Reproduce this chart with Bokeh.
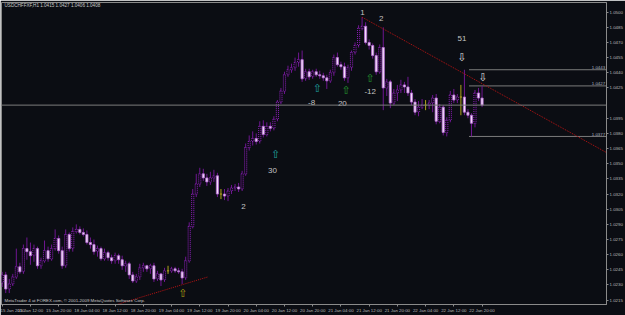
from bokeh.plotting import figure
from bokeh.models import Range1d, FixedTicker, Label, Span, NumeralTickFormatter
from bokeh.core.properties import value
from bokeh.embed import file_html
from bokeh.resources import INLINE

# ---------------- data ----------------
chart_title = "USDCHFFXF,H1 1.0415 1.0427 1.0406 1.0408"
copyright_text = "MetaTrader 4 at FOREX.com, \u00a9 2001-2009 MetaQuotes Software Corp."

opens = [1.0232, 1.0240, 1.0226, 1.0231, 1.0238, 1.0248, 1.0243, 1.0266, 1.0263, 1.0259,
         1.0266, 1.0249, 1.0254, 1.0264, 1.0256, 1.0266, 1.0276, 1.0264, 1.0249, 1.0280,
         1.0266, 1.0283, 1.0285, 1.0282, 1.0280, 1.0272, 1.0270, 1.0263, 1.0266, 1.0256,
         1.0262, 1.0257, 1.0254, 1.0259, 1.0255, 1.0249, 1.0251, 1.0240, 1.0234, 1.0238,
         1.0247, 1.0249, 1.0246, 1.0249, 1.0236, 1.0241, 1.0235, 1.0244, 1.0244, 1.0246,
         1.0244, 1.0243, 1.0237, 1.0254, 1.0288, 1.0320, 1.0330, 1.0340, 1.0336, 1.0332,
         1.0336, 1.0338, 1.0320, 1.0320, 1.0318, 1.0323, 1.0326, 1.0327, 1.0325, 1.0340,
         1.0366, 1.0372, 1.0375, 1.0372, 1.0387, 1.0379, 1.0387, 1.0385, 1.0394, 1.0411,
         1.0422, 1.0438, 1.0443, 1.0445, 1.0450, 1.0453, 1.0434, 1.0441, 1.0436, 1.0441,
         1.0438, 1.0437, 1.0435, 1.0432, 1.0440, 1.0455, 1.0448, 1.0446, 1.0435, 1.0445,
         1.0460, 1.0467, 1.0484, 1.0486, 1.0470, 1.0467, 1.0457, 1.0441, 1.0465, 1.0425,
         1.0431, 1.0410, 1.0420, 1.0423, 1.0428, 1.0426, 1.0420, 1.0411, 1.0401, 1.0406,
         1.0408, 1.0408, 1.0410, 1.0415, 1.0392, 1.0406, 1.0381, 1.0393, 1.0418, 1.0413,
         1.0416, 1.0416, 1.0401, 1.0398, 1.0390, 1.0420, 1.0415]

highs = [1.0243, 1.0243, 1.0236, 1.0241, 1.0266, 1.0252, 1.0270, 1.0277, 1.0272, 1.0270,
         1.0268, 1.0257, 1.0274, 1.0268, 1.0270, 1.0285, 1.0279, 1.0268, 1.0285, 1.0282,
         1.0287, 1.0290, 1.0288, 1.0286, 1.0284, 1.0277, 1.0275, 1.0269, 1.0268, 1.0266,
         1.0264, 1.0260, 1.0262, 1.0261, 1.0259, 1.0254, 1.0253, 1.0243, 1.0241, 1.0251,
         1.0252, 1.0250, 1.0251, 1.0252, 1.0244, 1.0242, 1.0247, 1.0249, 1.0248, 1.0248,
         1.0247, 1.0246, 1.0258, 1.0292, 1.0325, 1.0340, 1.0346, 1.0345, 1.0340, 1.0342,
         1.0344, 1.0341, 1.0325, 1.0325, 1.0326, 1.0329, 1.0330, 1.0331, 1.0343, 1.0370,
         1.0378, 1.0382, 1.0380, 1.0392, 1.0393, 1.0391, 1.0391, 1.0397, 1.0413, 1.0425,
         1.0441, 1.0447, 1.0449, 1.0455, 1.0460, 1.0462, 1.0444, 1.0444, 1.0443, 1.0444,
         1.0442, 1.0440, 1.0438, 1.0443, 1.0458, 1.0460, 1.0451, 1.0450, 1.0448, 1.0462,
         1.0470, 1.0487, 1.0495, 1.0490, 1.0473, 1.0469, 1.0460, 1.0468, 1.0485, 1.0434,
         1.0433, 1.0424, 1.0428, 1.0433, 1.0431, 1.0436, 1.0423, 1.0414, 1.0412, 1.0414,
         1.0413, 1.0413, 1.0418, 1.0419, 1.0409, 1.0408, 1.0396, 1.0422, 1.0424, 1.0419,
         1.0428, 1.0443, 1.0404, 1.0400, 1.0423, 1.0425, 1.0427]

lows = [1.0228, 1.0222, 1.0222, 1.0229, 1.0236, 1.0241, 1.0241, 1.0255, 1.0250, 1.0253,
        1.0246, 1.0246, 1.0252, 1.0253, 1.0254, 1.0264, 1.0261, 1.0246, 1.0247, 1.0263,
        1.0263, 1.0281, 1.0280, 1.0278, 1.0270, 1.0266, 1.0260, 1.0258, 1.0254, 1.0254,
        1.0254, 1.0251, 1.0251, 1.0251, 1.0245, 1.0243, 1.0236, 1.0232, 1.0232, 1.0235,
        1.0243, 1.0243, 1.0241, 1.0233, 1.0234, 1.0229, 1.0233, 1.0241, 1.0242, 1.0242,
        1.0241, 1.0231, 1.0235, 1.0252, 1.0286, 1.0317, 1.0327, 1.0333, 1.0328, 1.0329,
        1.0332, 1.0317, 1.0315, 1.0314, 1.0313, 1.0320, 1.0323, 1.0322, 1.0323, 1.0338,
        1.0363, 1.0368, 1.0369, 1.0370, 1.0376, 1.0377, 1.0382, 1.0383, 1.0392, 1.0409,
        1.0419, 1.0436, 1.0440, 1.0442, 1.0446, 1.0431, 1.0432, 1.0433, 1.0434, 1.0436,
        1.0434, 1.0432, 1.0424, 1.0430, 1.0437, 1.0446, 1.0443, 1.0432, 1.0430, 1.0442,
        1.0458, 1.0465, 1.0482, 1.0468, 1.0463, 1.0454, 1.0438, 1.0439, 1.0403, 1.0417,
        1.0405, 1.0408, 1.0412, 1.0420, 1.0420, 1.0417, 1.0408, 1.0398, 1.0397, 1.0404,
        1.0403, 1.0404, 1.0401, 1.0389, 1.0390, 1.0378, 1.0377, 1.0391, 1.0410, 1.0410,
        1.0398, 1.0398, 1.0395, 1.0377, 1.0386, 1.0412, 1.0406]

closes = [1.0240, 1.0226, 1.0231, 1.0238, 1.0248, 1.0243, 1.0266, 1.0263, 1.0259, 1.0266,
          1.0249, 1.0254, 1.0264, 1.0256, 1.0266, 1.0276, 1.0264, 1.0249, 1.0280, 1.0266,
          1.0283, 1.0285, 1.0282, 1.0280, 1.0272, 1.0270, 1.0263, 1.0266, 1.0256, 1.0262,
          1.0257, 1.0254, 1.0259, 1.0255, 1.0249, 1.0251, 1.0240, 1.0234, 1.0238, 1.0247,
          1.0249, 1.0246, 1.0249, 1.0236, 1.0241, 1.0235, 1.0244, 1.0244, 1.0246, 1.0244,
          1.0243, 1.0237, 1.0254, 1.0288, 1.0320, 1.0330, 1.0340, 1.0336, 1.0332, 1.0336,
          1.0338, 1.0320, 1.0320, 1.0318, 1.0323, 1.0326, 1.0327, 1.0325, 1.0340, 1.0366,
          1.0372, 1.0375, 1.0372, 1.0387, 1.0379, 1.0387, 1.0385, 1.0394, 1.0411, 1.0422,
          1.0438, 1.0443, 1.0445, 1.0450, 1.0453, 1.0434, 1.0441, 1.0436, 1.0441, 1.0438,
          1.0437, 1.0435, 1.0432, 1.0440, 1.0455, 1.0448, 1.0446, 1.0435, 1.0445, 1.0460,
          1.0467, 1.0484, 1.0486, 1.0470, 1.0467, 1.0457, 1.0441, 1.0465, 1.0425, 1.0431,
          1.0410, 1.0420, 1.0423, 1.0428, 1.0426, 1.0420, 1.0411, 1.0401, 1.0406, 1.0408,
          1.0408, 1.0410, 1.0415, 1.0392, 1.0406, 1.0381, 1.0393, 1.0418, 1.0413, 1.0416,
          1.0416, 1.0401, 1.0398, 1.0390, 1.0420, 1.0415, 1.0408]

time_label_bars = [0, 8, 16, 24, 32, 40, 48, 56, 64, 72, 80, 88, 96, 104, 112, 120, 128, 136]
time_labels = ["15 Jan 2010", "15 Jan 12:00", "15 Jan 20:00", "18 Jan 04:00", "18 Jan 12:00",
               "18 Jan 20:00", "19 Jan 04:00", "19 Jan 12:00", "19 Jan 20:00", "20 Jan 04:00",
               "20 Jan 12:00", "20 Jan 20:00", "21 Jan 04:00", "21 Jan 12:00", "21 Jan 20:00",
               "22 Jan 04:00", "22 Jan 12:00", "22 Jan 20:00"]

price_ticks = [1.0500, 1.0485, 1.0470, 1.0455, 1.0440, 1.0425, 1.0395, 1.0380, 1.0365,
               1.0350, 1.0335, 1.0320, 1.0305, 1.0290, 1.0275, 1.0260, 1.0245, 1.0230, 1.0215]
bid_price = 1.0408

level_prices = [1.0443, 1.0427, 1.0377]
level_labels = ["1.0443", "1.0427", "1.0377"]
level_start_bar = 132.3

trend_down_bars = [102.0, 171.3]
trend_down_prices = [1.0495, 1.0361]
trend_up_bars = [30.0, 58.3]
trend_up_prices = [1.0208, 1.0238]

note_texts = ["1", "2", "51", "30", "2", "-8", "20", "-12"]
note_bars = [102.1, 107.4, 130.3, 76.6, 68.4, 87.7, 96.4, 104.3]
note_prices = [1.04997, 1.04938, 1.0474, 1.0343, 1.0308, 1.0411, 1.0410, 1.0421]

up_arrow_bars = [51.2, 77.5, 89.3, 97.5, 104.3]
up_arrow_prices = [1.02215, 1.0359, 1.0424, 1.0422, 1.0434]
up_arrow_colors = ["#a89a12", "#1f9e9e", "#1f9e9e", "#22922e", "#22922e"]
down_arrow_bars = [130.3, 136.2]
down_arrow_prices = [1.04555, 1.04358]

# ---------------- figure ----------------
BG = "#0b0d13"
GREY = "#8a8a8a"
LBL = "#b8b8b8"
FONT = "Liberation Sans"

p = figure(width=625, height=315, output_backend="svg", toolbar_location=None,
           x_range=Range1d(-0.2, 171.27), y_range=Range1d(1.02107, 1.050954),
           x_axis_location="below", y_axis_location="right")
p.min_border = 0
p.min_border_left = 1
p.min_border_right = 17
p.min_border_top = 2
p.min_border_bottom = 9
p.background_fill_color = BG
p.border_fill_color = BG
p.outline_line_color = GREY
p.grid.visible = False

xa = p.xaxis[0]
xa.ticker = FixedTicker(ticks=time_label_bars)
xa.major_label_overrides = {b: t for b, t in zip(time_label_bars, time_labels)}
xa.major_label_text_font = FONT
xa.major_label_text_font_size = "4.4px"
xa.major_label_text_color = LBL
xa.major_label_standoff = 1
xa.major_label_text_align = "left"
xa.major_tick_out = 2
xa.major_tick_in = 0
xa.minor_tick_out = 0
xa.minor_tick_in = 0
xa.axis_line_color = GREY
xa.major_tick_line_color = GREY

ya = p.yaxis[0]
ya.ticker = FixedTicker(ticks=price_ticks)
ya.formatter = NumeralTickFormatter(format="0.0000")
ya.major_label_text_font = FONT
ya.major_label_text_font_size = "4.4px"
ya.major_label_text_color = LBL
ya.major_label_standoff = 1
ya.major_tick_out = 2
ya.major_tick_in = 0
ya.minor_tick_out = 0
ya.minor_tick_in = 0
ya.axis_line_color = GREY
ya.major_tick_line_color = GREY

# bid line
p.add_layout(Span(location=bid_price, dimension="width", line_color="#7c7c7c", line_width=1))

# horizontal levels
p.segment(x0=[level_start_bar] * len(level_prices), x1=[171.3] * len(level_prices),
          y0=level_prices, y1=level_prices, line_color="#7c7c7c", line_width=1)
p.text(x=[170.9] * len(level_prices), y=level_prices, text=level_labels,
       text_align="right", text_baseline="bottom", y_offset=-0.5,
       text_font=value(FONT), text_font_size="4.4px", text_color="#a9b2c0")

# candles
idx = list(range(len(opens)))
up = [i for i in idx if closes[i] > opens[i]]
dn = [i for i in idx if closes[i] < opens[i]]
dj = [i for i in idx if closes[i] == opens[i]]
nd = [i for i in idx if i not in dj]

WICK = "#6f1691"
p.segment(x0=nd, x1=nd, y0=[lows[i] for i in nd], y1=[highs[i] for i in nd],
          line_color=WICK, line_width=1)
p.vbar(x=up, width=0.62, bottom=[opens[i] for i in up], top=[closes[i] for i in up],
       fill_color="#0e0a16", line_color="#8a22b6", line_width=1, line_dash="1 1")
p.vbar(x=dn, width=0.62, bottom=[closes[i] for i in dn], top=[opens[i] for i in dn],
       fill_color="#f3dcf7", line_color="#b46ad4", line_width=0.8)
DOJI = "#b0a41c"
p.segment(x0=dj, x1=dj, y0=[lows[i] for i in dj], y1=[highs[i] for i in dj],
          line_color=DOJI, line_width=1)
p.segment(x0=[i - 0.32 for i in dj], x1=[i + 0.32 for i in dj],
          y0=[opens[i] for i in dj], y1=[opens[i] for i in dj], line_color=DOJI, line_width=1)

# trend lines
p.line(trend_down_bars, trend_down_prices, line_color="#b81414", line_width=1, line_dash="1 1")
p.line(trend_up_bars, trend_up_prices, line_color="#b81414", line_width=1, line_dash="1 1")

# arrows
p.text(x=up_arrow_bars, y=up_arrow_prices, text=["\u21e7"] * len(up_arrow_bars),
       text_color=up_arrow_colors, text_align="center", text_baseline="middle",
       text_font=value("DejaVu Sans"), text_font_size="11px")
p.text(x=down_arrow_bars, y=down_arrow_prices, text=["\u21e9"] * len(down_arrow_bars),
       text_color="#d8d8d8", text_align="center", text_baseline="middle",
       text_font=value("DejaVu Sans"), text_font_size="11px")

# notes
p.text(x=note_bars, y=note_prices, text=note_texts, text_color="#c4c4c4",
       text_align="center", text_baseline="middle",
       text_font=value(FONT), text_font_size="8px")

# title and copyright
p.add_layout(Label(x=3, y=302, x_units="screen", y_units="screen", text=chart_title,
                   text_font=FONT, text_font_size="4.6px", text_color="#c8c8c8",
                   text_baseline="top"))
p.add_layout(Label(x=3, y=2, x_units="screen", y_units="screen", text=copyright_text,
                   text_font=FONT, text_font_size="4.4px", text_color="#c8c8c8",
                   text_baseline="bottom"))

# bid price tag on the price scale
p.add_layout(Label(x=171.75, y=bid_price, text="1.0408", text_font=FONT,
                   text_font_size="4.4px", text_color="#000000", text_baseline="middle",
                   background_fill_color="#ffffff"))

open("out.html", "w").write(file_html(p, INLINE))
